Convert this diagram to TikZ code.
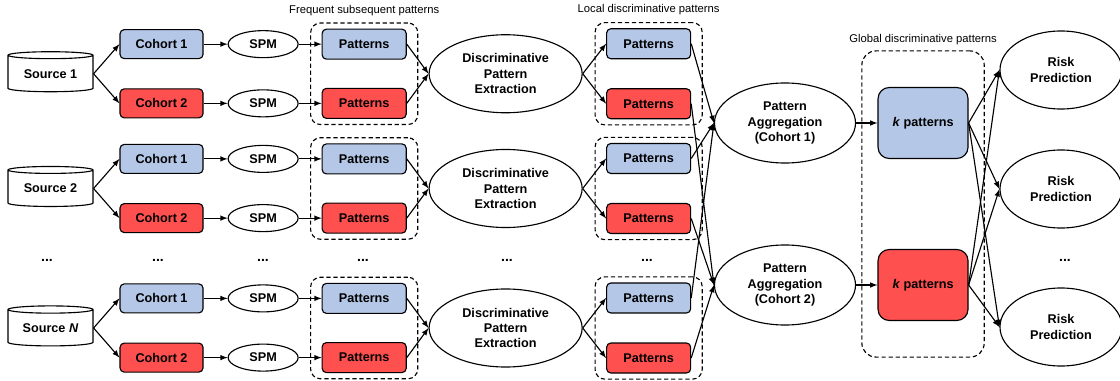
\documentclass[tikz,border=0pt]{standalone}
\usepackage{fontspec}
\setmainfont{Liberation Sans}
\usetikzlibrary{positioning,shapes.geometric,fit}
\definecolor{cohortblue}{RGB}{180,199,231}
\definecolor{cohortred}{RGB}{255,80,80}

\begin{document}
\begin{tikzpicture}[x=0.025cm, y=-0.025cm, -latex, on grid, thick,
every node/.style={font=\bfseries\fontsize{9}{11}\selectfont},
src/.style={cylinder, shape border rotate=90, aspect=0.13, draw, fill=white,
  minimum width=2.125cm, minimum height=1cm, inner sep=0pt},
cohort/.style={rectangle, rounded corners=3pt, draw, minimum width=2.075cm,
  minimum height=0.725cm},
spm/.style={ellipse, draw, minimum width=1.75cm, minimum height=0.675cm, inner sep=0pt},
pat/.style={rectangle, rounded corners=3pt, draw, minimum width=2.1cm,
  minimum height=0.75cm},
blue/.style={fill=cohortblue}, red/.style={fill=cohortred},
ext/.style={ellipse, draw, align=center, minimum width=3.825cm,
  minimum height=1.95cm, inner sep=0pt},
agg/.style={ellipse, draw, align=center, minimum width=3.525cm,
  minimum height=2cm, inner sep=0pt},
kpat/.style={rectangle, rounded corners=8pt, draw, minimum width=2.25cm,
  minimum height=1.775cm},
risk/.style={ellipse, draw, align=center, minimum width=3.05cm,
  minimum height=1.95cm, inner sep=0pt},
grp/.style={draw, dash pattern=on 3pt off 2pt, rounded corners=7pt,
  inner xsep=0.275cm, inner ysep=0.14cm},
lbl/.style={font=\fontsize{8}{10}\selectfont},
dots/.style={font=\bfseries\fontsize{10}{12}\selectfont}]
\useasboundingbox (0,0) rectangle (1120,381);

% source 1
\node[src] (S1) at (50.5,73.75) {Source 1};
\node[cohort,blue] (C11) [above right = 0.74cm and 2.775cm of S1] {Cohort 1};
\node[cohort,red] (C12) [below right = 0.74cm and 2.775cm of S1] {Cohort 2};
\node[spm] (M11) [right = 2.54cm of C11] {SPM};
\node[spm] (M12) [right = 2.54cm of C12] {SPM};
\node[pat,blue] (P11) [right = 2.525cm of M11] {Patterns};
\node[pat,red] (P12) [right = 2.525cm of M12] {Patterns};
\node[ext] (D1) [right = 11.375cm of S1] {Discriminative\\Pattern\\Extraction};
\node[pat,blue] (L11) [above right = 0.75cm and 3.575cm of D1] {Patterns};
\node[pat,red] (L12) [below right = 0.75cm and 3.575cm of D1] {Patterns};

% source 2
\node[src] (S2) at (50.5,188.5) {Source 2};
\node[cohort,blue] (C21) [above right = 0.74cm and 2.775cm of S2] {Cohort 1};
\node[cohort,red] (C22) [below right = 0.74cm and 2.775cm of S2] {Cohort 2};
\node[spm] (M21) [right = 2.54cm of C21] {SPM};
\node[spm] (M22) [right = 2.54cm of C22] {SPM};
\node[pat,blue] (P21) [right = 2.525cm of M21] {Patterns};
\node[pat,red] (P22) [right = 2.525cm of M22] {Patterns};
\node[ext] (D2) [right = 11.375cm of S2] {Discriminative\\Pattern\\Extraction};
\node[pat,blue] (L21) [above right = 0.75cm and 3.575cm of D2] {Patterns};
\node[pat,red] (L22) [below right = 0.75cm and 3.575cm of D2] {Patterns};

% source N
\node[src] (SN) at (50.5,328) {Source \textit{N}};
\node[cohort,blue] (CN1) [above right = 0.74cm and 2.775cm of SN] {Cohort 1};
\node[cohort,red] (CN2) [below right = 0.74cm and 2.775cm of SN] {Cohort 2};
\node[spm] (MN1) [right = 2.54cm of CN1] {SPM};
\node[spm] (MN2) [right = 2.54cm of CN2] {SPM};
\node[pat,blue] (PN1) [right = 2.525cm of MN1] {Patterns};
\node[pat,red] (PN2) [right = 2.525cm of MN2] {Patterns};
\node[ext] (DN) [right = 11.375cm of SN] {Discriminative\\Pattern\\Extraction};
\node[pat,blue] (LN1) [above right = 0.75cm and 3.575cm of DN] {Patterns};
\node[pat,red] (LN2) [below right = 0.75cm and 3.575cm of DN] {Patterns};

% dashed groups
\node[grp,fit=(P11)(P12)] (F1) {};
\node[grp,fit=(P21)(P22)] (F2) {};
\node[grp,fit=(PN1)(PN2)] (FN) {};
\node[grp,fit=(L11)(L12)] (G1) {};
\node[grp,fit=(L21)(L22)] (G2) {};
\node[grp,fit=(LN1)(LN2)] (GN) {};
\node[lbl] (tF) at ([yshift=0.3cm]F1.north) {Frequent subsequent patterns};
\node[lbl] (tG) at ([yshift=0.3cm]G1.north) {Local discriminative patterns};

% aggregation and prediction
\node[agg] (A1) at (785,123) {Pattern\\Aggregation\\(Cohort 1)};
\node[agg] (A2) at (785,285) {Pattern\\Aggregation\\(Cohort 2)};
\node[kpat,blue] (K1) [right = 3.45cm of A1] {\textit{k} patterns};
\node[kpat,red] (K2) [right = 3.45cm of A2] {\textit{k} patterns};
\node[grp,rounded corners=10pt,inner xsep=0.39cm,inner ysep=0.9cm,fit=(K1)(K2)] (GG) {};
\node[lbl] (tGG) at ([yshift=0.275cm]GG.north) {Global discriminative patterns};
\node[risk] (R1) at (1061,70) {Risk\\Prediction};
\node[risk] (R2) at (1061,189) {Risk\\Prediction};
\node[risk] (RN) at (1061,327) {Risk\\Prediction};

% dots
\node[dots] (d1) at (47,260) {...};
\node[dots] (d2) at (158,260) {...};
\node[dots] (d3) at (263,260) {...};
\node[dots] (d4) at (363,260) {...};
\node[dots] (d5) at (507,260) {...};
\node[dots] (d6) at (647,260) {...};
\node[dots] (d7) at (1065,260) {...};

% connectors
\path (S1.east) edge (C11.west) edge (C12.west);
\path (S2.east) edge (C21.west) edge (C22.west);
\path (SN.east) edge (CN1.west) edge (CN2.west);
\path (C11) edge (M11) (M11) edge (P11) (C12) edge (M12) (M12) edge (P12);
\path (C21) edge (M21) (M21) edge (P21) (C22) edge (M22) (M22) edge (P22);
\path (CN1) edge (MN1) (MN1) edge (PN1) (CN2) edge (MN2) (MN2) edge (PN2);
\path (P11.east) edge (D1.west) (P12.east) edge (D1.west);
\path (P21.east) edge (D2.west) (P22.east) edge (D2.west);
\path (PN1.east) edge (DN.west) (PN2.east) edge (DN.west);
\path (D1.east) edge (L11.west) edge (L12.west);
\path (D2.east) edge (L21.west) edge (L22.west);
\path (DN.east) edge (LN1.west) edge (LN2.west);
\path (L11.east) edge (A1.west) (L21.east) edge (A1.west) (LN1.east) edge (A1.west);
\path (L12.east) edge (A2.west) (L22.east) edge (A2.west) (LN2.east) edge (A2.west);
\path (A1) edge (K1) (A2) edge (K2);
\path (K1.east) edge (R1.west) edge (R2.west) edge (RN.west);
\path (K2.east) edge (R1.west) edge (R2.west) edge (RN.west);
\end{tikzpicture}
\end{document}
